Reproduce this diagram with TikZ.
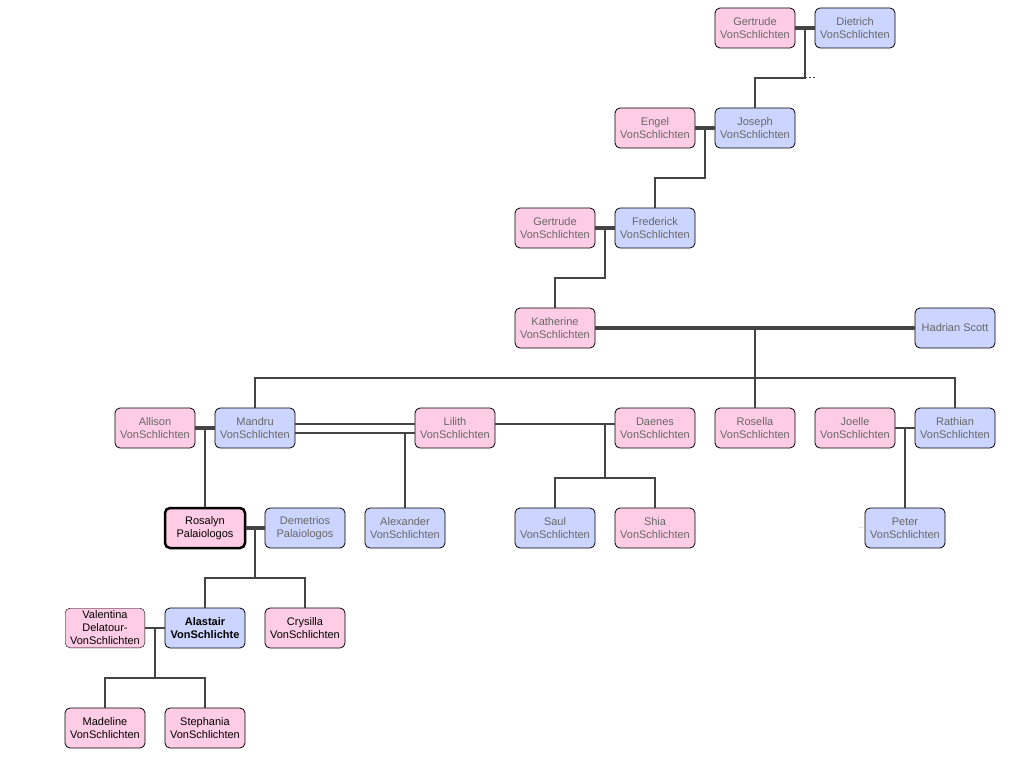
\documentclass[tikz,border=0pt]{standalone}
\usepackage{fontspec}
\setmainfont{Liberation Sans}
\usetikzlibrary{positioning}

\definecolor{femfill}{HTML}{FFCCE6}
\definecolor{malefill}{HTML}{CCD5FF}
\definecolor{linkgray}{HTML}{444444}
\definecolor{namegray}{HTML}{666666}

\tikzset{
  person/.style={draw=black, line width=0.8pt, rounded corners=5pt, minimum width=80pt,
    minimum height=40pt, inner sep=0pt, align=center, text=namegray,
    font=\fontsize{11}{13}\selectfont},
  female/.style={person, fill=femfill},
  male/.style={person, fill=malefill},
  link/.style={draw=linkgray, line width=2pt},
  wed/.style={draw=linkgray, line width=4pt}
}

\begin{document}
\begin{tikzpicture}[x=1pt, y=-1pt]
    \useasboundingbox (0,0) rectangle (1016,757);

    % top generations
    \node[female] (gert1) at (755,28) {Gertrude\\VonSchlichten};
    \node[male] (diet) at (855,28) {Dietrich\\VonSchlichten};
    \node[female] (engel) at (655,128) {Engel\\VonSchlichten};
    \node[male] (joseph) at (755,128) {Joseph\\VonSchlichten};
    \node[female] (gert2) at (555,228) {Gertrude\\VonSchlichten};
    \node[male] (fred) at (655,228) {Frederick\\VonSchlichten};
    \node[female] (kath) at (555,328) {Katherine\\VonSchlichten};
    \node[male] (hadrian) at (955,328) {Hadrian Scott};

    % children of Katherine
    \node[female] (allison) at (155,428) {Allison\\VonSchlichten};
    \node[male] (mandru) at (255,428) {Mandru\\VonSchlichten};
    \node[female] (lilith) at (455,428) {Lilith\\VonSchlichten};
    \node[female] (daenes) at (655,428) {Daenes\\VonSchlichten};
    \node[female] (rosella) at (755,428) {Rosella\\VonSchlichten};
    \node[female] (joelle) at (855,428) {Joelle\\VonSchlichten};
    \node[male] (rathian) at (955,428) {Rathian\\VonSchlichten};

    % grandchildren
    \node[female, line width=2.5pt, text=black] (rosalyn) at (205,528) {Rosalyn\\Palaiologos};
    \node[male] (demet) at (305,528) {Demetrios\\Palaiologos};
    \node[male] (alex) at (405,528) {Alexander\\VonSchlichten};
    \node[male] (saul) at (555,528) {Saul\\VonSchlichten};
    \node[female] (shia) at (655,528) {Shia\\VonSchlichten};
    \node[male] (peter) at (905,528) {Peter\\VonSchlichten};
    \node[left=0pt of peter, inner sep=1pt, font=\tiny, text=namegray] (pdots) {...};

    \begin{scope}
      \clip[rounded corners=5pt] (65,608) rectangle (145,648);
      \node[female, text=black, text depth=0pt] (valent) at (105,628) {Valentina\\Delatour-\\VonSchlichten};
    \end{scope}
    \node[male, text=black, font=\fontsize{11}{13}\selectfont\bfseries] (alastair) at (205,628) {Alastair\\VonSchlichte};
    \node[female, text=black] (crys) at (305,628) {Crysilla\\VonSchlichten};
    \node[female, text=black] (madel) at (105,728) {Madeline\\VonSchlichten};
    \node[female, text=black] (steph) at (205,728) {Stephania\\VonSchlichten};

    % junction points
    \coordinate (j1) at (805,78);
    \coordinate (j1e) at (817,78);
    \coordinate (j2) at (705,178);
    \coordinate (j3) at (605,278);
    \coordinate (j4) at (755,378);
    \coordinate (j5) at (605,478);
    \coordinate (j6) at (255,578);
    \coordinate (j7) at (155,678);

    % marriages
    \draw[wed] (gert1.east) -- (diet.west);
    \draw[wed] (engel.east) -- (joseph.west);
    \draw[wed] (gert2.east) -- (fred.west);
    \draw[wed] (kath.east) -- (hadrian.west);
    \draw[wed] (allison.east) -- (mandru.west);
    \draw[wed] (rosalyn.east) -- (demet.west);
    \draw[link] ([yshift=4pt]mandru.east) -- ([yshift=4pt]lilith.west);
    \draw[link] ([yshift=-5pt]mandru.east) -- ([yshift=-5pt]lilith.west);
    \draw[link] ([yshift=4pt]lilith.east) -- ([yshift=4pt]daenes.west);
    \draw[link] (joelle.east) -- (rathian.west);
    \draw[link] (valent.east) -- (alastair.west);

    % descent
    \draw[link] (805,28) -- (j1) -| (joseph.north);
    \draw[link, dotted, line width=1pt] (j1) -- (j1e);
    \draw[link] (705,128) -- (j2) -| (fred.north);
    \draw[link] (605,228) -- (j3) -| (kath.north);
    \draw[link] (755,328) -- (j4);
    \draw[link] (mandru.north) |- (j4) -| (rathian.north);
    \draw[link] (j4) -- (rosella.north);
    \draw[link] (205,428) -- (rosalyn.north);
    \draw[link] (405,433) -- (alex.north);
    \draw[link] (605,424) -- (j5);
    \draw[link] (saul.north) |- (j5) -| (shia.north);
    \draw[link] (905,428) -- (peter.north);
    \draw[link] (255,528) -- (j6);
    \draw[link] (alastair.north) |- (j6) -| (crys.north);
    \draw[link] (155,628) -- (j7);
    \draw[link] (madel.north) |- (j7) -| (steph.north);
\end{tikzpicture}
\end{document}
